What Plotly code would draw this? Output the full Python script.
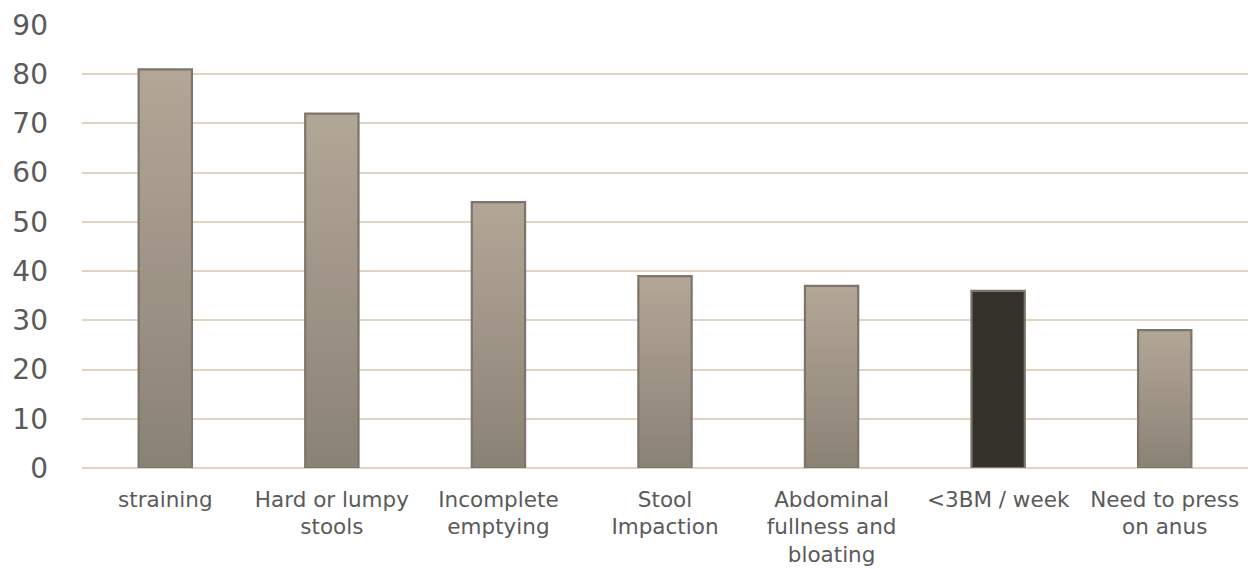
import plotly.graph_objects as go

# Reported symptoms (%)
categories = [
    "straining",
    "Hard or lumpy<br>stools",
    "Incomplete<br>emptying",
    "Stool<br>Impaction",
    "Abdominal<br>fullness and<br>bloating",
    "&lt;3BM / week",
    "Need to press<br>on anus",
]
values = [81, 72, 54, 39, 37, 36, 28]
highlight = [False, False, False, False, False, True, False]

x_idx = list(range(len(categories)))
BAR_W = 0.32
N_SEG = 40

top_rgb = (178, 166, 151)
bot_rgb = (139, 130, 118)


def mix(a, b, t):
    return "rgb(%d,%d,%d)" % tuple(round(a[k] + (b[k] - a[k]) * t) for k in range(3))


fig = go.Figure()

# vertical gradient: nested bars from the full height down to the base,
# each one shorter and darker, drawn on top of the previous one
for s in range(N_SEG):
    frac = 1 - s / N_SEG
    t = 1 - (s + 0.5) / N_SEG
    heights, colors = [], []
    for v, h in zip(values, highlight):
        heights.append(v * frac)
        colors.append("#35312b" if h else mix(bot_rgb, top_rgb, t))
    fig.add_trace(go.Bar(
        x=x_idx, y=heights, width=BAR_W,
        marker=dict(color=colors, line=dict(width=0)),
        hoverinfo="skip", showlegend=False,
    ))

# bar outlines
fig.add_trace(go.Bar(
    x=x_idx, y=values, width=BAR_W,
    marker=dict(color="rgba(0,0,0,0)", line=dict(color="#7d756b", width=2.2)),
    showlegend=False,
))

fig.update_layout(
    barmode="overlay",
    width=1248, height=569,
    margin=dict(l=82, r=0, t=25, b=101),
    paper_bgcolor="white", plot_bgcolor="white",
    font=dict(family="DejaVu Sans, sans-serif", color="#5a5a5a"),
    xaxis=dict(
        tickmode="array", tickvals=x_idx, ticktext=categories,
        range=[-0.5, len(categories) - 0.5],
        showgrid=False, zeroline=False, showline=False, ticks="",
        ticklabelstandoff=16,
        tickfont=dict(size=21.5, color="#5a5a5a"),
    ),
    yaxis=dict(
        range=[0, 90], dtick=10, tick0=0,
        showgrid=True, gridcolor="#e2d3c3", gridwidth=2,
        zeroline=True, zerolinecolor="#e2d3c3", zerolinewidth=2,
        showline=False, ticks="", ticklabelstandoff=33,
        tickfont=dict(size=28, color="#5a5a5a"),
    ),
)

fig.write_html("out.html")
